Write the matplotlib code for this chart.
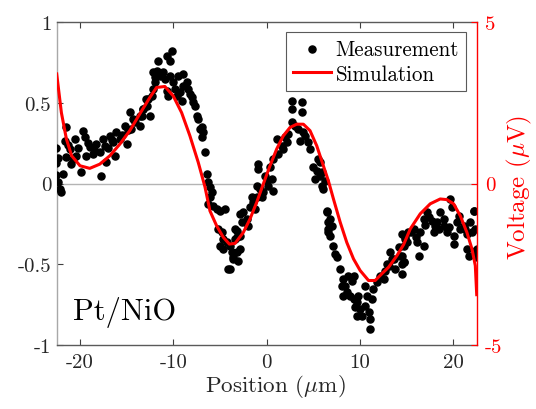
import numpy as np
import matplotlib.pyplot as plt
from matplotlib.ticker import FixedLocator, FixedFormatter

plt.rcParams['font.family'] = 'serif'
plt.rcParams['font.serif'] = ['cmr10', 'DejaVu Serif']
plt.rcParams['mathtext.fontset'] = 'cm'
plt.rcParams['axes.unicode_minus'] = False
plt.rcParams['axes.formatter.use_mathtext'] = True

# measurement (position in um, normalised signal)
meas_x = [-22.53, -22.53, -22.53, -22.36, -22.1, -22.0, -21.82, -21.53, -21.64, -21.46,
          -21.1, -20.57, -20.75, -20.93, -20.39, -19.85, -19.67, -19.5, -19.32, -18.96,
          -18.6, -18.24, -17.89, -17.71, -17.53, -17.17, -17.35, -16.81, -16.45, -16.28,
          -16.1, -15.74, -15.2, -15.02, -14.67, -14.49, -14.13, -13.59, -13.24, -12.88,
          -22.4, -21.3, -20.2, -19.1, -18.4, -17.0, -16.6, -15.5, -14.9, -14.3,
          -13.59, -13.41, -13.23, -12.87, -12.52, -12.7, -12.34, -12.16, -11.98, -12.16,
          -11.8, -11.62, -11.98, -11.44, -11.09, -10.91, -10.73, -10.37, -10.19, -10.55,
          -10.73, -10.37, -10.01, -9.83, -9.66, -9.48, -9.3, -9.12, -8.94, -8.94,
          -8.58, -8.4, -8.22, -8.05, -7.87, -7.69, -7.51, -7.33, -7.15, -6.97,
          -6.97, -6.8, -6.62, -6.44, -6.26, -6.08, -5.9, -6.08, -6.26, -5.72,
          -5.37, -5.01, -4.47, -5.19, -4.83, -4.65, -5.01, -4.65, -4.29, -3.93,
          -3.76, -3.4, -3.22, -4.11, -3.58, -2.86,
          -3.94, -3.58, -3.22, -3.05, -3.4, -2.87, -3.22, -2.87, -2.69, -2.51,
          -2.15, -1.97, -1.79, -1.44, -1.62, -1.26, -1.08, -1.08, -0.72, -0.54,
          -0.36, -0.9, -0.9, 0.0, -0.18, 0.17, 0.53, 0.71, 0.35, 0.71,
          1.25, 1.07, 1.6, 1.78, 2.14, 1.96, 2.32, 2.68, 3.04, 2.68,
          2.68, 3.75, 3.75, 3.39, 3.57, 3.93, 4.11, 4.47, 4.64, 5.54,
          5.0, 5.36, 5.72, 5.18, 5.9, 6.26, 6.43, 6.61, 6.61,
          5.72, 5.9, 6.08, 6.44, 6.79, 6.61, 6.97, 6.79, 7.15, 7.33,
          7.51, 7.87, 8.22, 8.04, 8.4, 8.76, 9.12, 9.3, 8.58, 8.22,
          8.94, 9.3, 9.65, 9.83, 9.48, 10.01, 9.65, 10.19, 10.55, 10.73,
          10.55, 10.91, 11.08, 11.08, 11.26, 11.44, 11.8, 12.16, 12.52, 12.69,
          13.05, 13.23, 13.41, 13.77, 14.12, 14.3, 14.48, 14.66, 14.84, 15.02,
          14.48, 14.84, 14.66, 14.48, 14.66, 14.48, 15.19, 15.73, 16.27, 16.09,
          16.8, 16.45, 16.8, 17.16, 17.34, 17.7, 17.88, 18.06, 18.41, 18.59,
          18.95, 19.31, 19.67, 19.84, 20.02, 20.02, 20.38, 20.74, 20.56, 21.09,
          21.45, 21.45, 21.81, 22.17, 22.35, 22.53, 22.53, 21.99, 22.25, 22.3,
          21.7, 12.9, 13.6, 15.5, 16.0, 17.0, 18.2, 19.0, 19.5, 21.2]
meas_y = [0.22, 0.125, 0.055, 0.007, -0.035, -0.055, 0.058, 0.348, 0.265, 0.162,
          0.213, 0.276, 0.152, 0.12, 0.172, 0.069, 0.327, 0.286, 0.172, 0.224,
          0.183, 0.245, 0.193, 0.048, 0.276, 0.131, 0.234, 0.296, 0.255, 0.172,
          0.317, 0.276, 0.358, 0.245, 0.441, 0.338, 0.379, 0.42, 0.462, 0.524,
          0.16, 0.24, 0.22, 0.25, 0.2, 0.22, 0.27, 0.3, 0.33, 0.4,
          0.358, 0.42, 0.462, 0.482, 0.42, 0.524, 0.544, 0.586, 0.627, 0.689,
          0.7, 0.762, 0.658, 0.668, 0.689, 0.648, 0.793, 0.762, 0.824, 0.544,
          0.575, 0.668, 0.627, 0.586, 0.544, 0.668, 0.565, 0.513, 0.679, 0.606,
          0.627, 0.586, 0.555, 0.534, 0.503, 0.482, 0.42, 0.4, 0.338, 0.348,
          0.286, 0.317, 0.193, 0.058, 0.007, -0.024, -0.055, -0.086, -0.128, -0.138,
          -0.159, -0.169, -0.159, -0.283, -0.303, -0.345, -0.386, -0.407, -0.365, -0.386,
          -0.427, -0.283, -0.334, -0.531, -0.458, -0.19,
          -0.531, -0.469, -0.427, -0.479, -0.344, -0.407, -0.293, -0.324, -0.241, -0.179,
          -0.22, -0.262, -0.148, -0.117, -0.086, -0.158, -0.086, -0.014, -0.034, -0.086,
          -0.055, 0.09, 0.121, 0.017, 0.048, -0.014, 0.028, -0.045, 0.1, 0.152,
          0.183, 0.276, 0.234, 0.214, 0.255, 0.286, 0.307, 0.379, 0.358, 0.514,
          0.462, 0.503, 0.441, 0.338, 0.265, 0.317, 0.296, 0.255, 0.214, 0.152,
          0.1, 0.079, 0.048, 0.028, -0.014, 0.017, -0.179, -0.241, -0.303,
          0.131, 0.069, -0.034, -0.169, -0.22, -0.282, -0.262, -0.324, -0.386, -0.437,
          -0.458, -0.53, -0.593, -0.634, -0.634, -0.572, -0.603, -0.572, -0.675, -0.696,
          -0.696, -0.717, -0.737, -0.696, -0.768, -0.779, -0.82, -0.82, -0.634, -0.696,
          -0.758, -0.799, -0.841, -0.903, -0.717, -0.655, -0.613, -0.572, -0.593, -0.541,
          -0.51, -0.427, -0.468, -0.53, -0.396, -0.448, -0.499, -0.489, -0.334, -0.365,
          -0.313, -0.344, -0.386, -0.448, -0.489, -0.561, -0.303, -0.282, -0.448, -0.365,
          -0.386, -0.303, -0.22, -0.179, -0.21, -0.23, -0.303, -0.262, -0.282, -0.179,
          -0.262, -0.303, -0.096, -0.148, -0.324, -0.375, -0.241, -0.282, -0.2, -0.262,
          -0.313, -0.406, -0.241, -0.169, -0.282, -0.406, -0.458, -0.303, -0.17, -0.42,
          -0.45, -0.5, -0.47, -0.3, -0.33, -0.26, -0.24, -0.22, -0.27, -0.28]

# simulation (position in um, voltage in uV)
sim_x = [-22.5, -22.0, -21.46, -20.9, -20.0, -18.96, -17.89, -16.81, -15.74, -14.67,
         -13.6, -12.52, -11.8, -10.91, -10.02, -9.12, -8.23, -7.34, -6.62, -6.08,
         -5.37, -4.65, -4.0, -3.4, -2.51, -1.79, -1.08, -0.36, 0.35, 1.07,
         1.78, 2.5, 3.21, 3.93, 4.64, 5.36, 6.07, 6.61, 7.15, 7.87,
         8.58, 9.3, 10.01, 10.91, 11.62, 12.34, 13.05, 13.95, 14.66, 15.38,
         16.45, 17.52, 18.59, 19.31, 20.02, 20.74, 21.45, 21.99, 22.35, 22.5]
sim_v = [3.4, 2.2, 1.38, 0.86, 0.55, 0.47, 0.6, 0.86, 1.22, 1.64,
         2.16, 2.67, 2.98, 3.01, 2.72, 2.2, 1.48, 0.66, -0.1, -0.85,
         -1.31, -1.67, -1.88, -1.86, -1.52, -1.1, -0.59, -0.01, 0.55, 1.07,
         1.48, 1.74, 1.84, 1.84, 1.64, 1.17, 0.55, 0.08, -0.48, -1.2,
         -1.83, -2.34, -2.7, -3.01, -3.01, -2.8, -2.6, -2.24, -1.9, -1.41,
         -0.94, -0.63, -0.48, -0.5, -0.63, -1.0, -1.52, -2.03, -2.55, -3.45]

left_ticks = [-1, -0.5, 0, 0.5, 1]
left_labels = ['-1', '-0.5', '0', '0.5', '1']
right_ticks = [-5, 0, 5]
right_labels = ['-5', '0', '5']
x_ticks = [-20, -10, 0, 10, 20]
x_labels = ['-20', '-10', '0', '10', '20']

fig = plt.figure(figsize=(5.36, 4.10), dpi=100)
ax = fig.add_axes([0.1058, 0.157, 0.7836, 0.786])
ax.set_xlim(-22.5, 22.5)
ax.set_ylim(-1, 1)
ax.axhline(0, color='#b4b4b4', lw=1, zorder=1)
pts = ax.scatter(meas_x, meas_y, s=26, color='black', zorder=3, label='Measurement')

ax.xaxis.set_major_locator(FixedLocator(x_ticks))
ax.xaxis.set_major_formatter(FixedFormatter(x_labels))
ax.yaxis.set_major_locator(FixedLocator(left_ticks))
ax.yaxis.set_major_formatter(FixedFormatter(left_labels))
ax.tick_params(axis='both', direction='in', labelsize=15, length=4, width=0.8,
               colors='#404040', labelcolor='#262626')
ax.tick_params(axis='x', top=True, pad=6)
ax.tick_params(axis='y', pad=4)
ax.spines['left'].set_color('#a8a8a8')
ax.spines['top'].set_color('#5a5a5a')
ax.spines['bottom'].set_color('#5a5a5a')
ax.spines['right'].set_visible(False)
for s in ax.spines.values():
    s.set_linewidth(1.0)
ax.set_xlabel(r'Position ($\mu$m)', fontsize=16.6, color='#262626')
ax.xaxis.set_label_coords(0.52, -0.085)
ax.text(-20.8, -0.84, 'Pt/NiO', fontsize=22, color='black')

ax2 = ax.twinx()
ax2.set_ylim(-5, 5)
line, = ax2.plot(sim_x, sim_v, color='red', lw=2.2, label='Simulation')
ax2.yaxis.set_major_locator(FixedLocator(right_ticks))
ax2.yaxis.set_major_formatter(FixedFormatter(right_labels))
ax2.tick_params(axis='y', direction='in', labelsize=15, colors='red', length=4, pad=6)
ax2.spines['right'].set_color('red')
ax2.spines['right'].set_linewidth(1.0)
for side in ['left', 'top', 'bottom']:
    ax2.spines[side].set_visible(False)
ax2.set_ylabel(r'Voltage ($\mu$V)', fontsize=18, color='red')
ax2.yaxis.set_label_coords(1.068, 0.49)

leg = ax2.legend([pts, line], ['Measurement', 'Simulation'], loc='upper right',
                 bbox_to_anchor=(0.99, 0.99), fontsize=15.2, frameon=True,
                 fancybox=False, edgecolor='#5a5a5a', framealpha=1,
                 handlelength=1.8, handletextpad=0.2, borderpad=0.35,
                 labelspacing=0.25, borderaxespad=0.3)
leg.get_frame().set_linewidth(0.8)

fig.savefig('out.png', dpi=100)
